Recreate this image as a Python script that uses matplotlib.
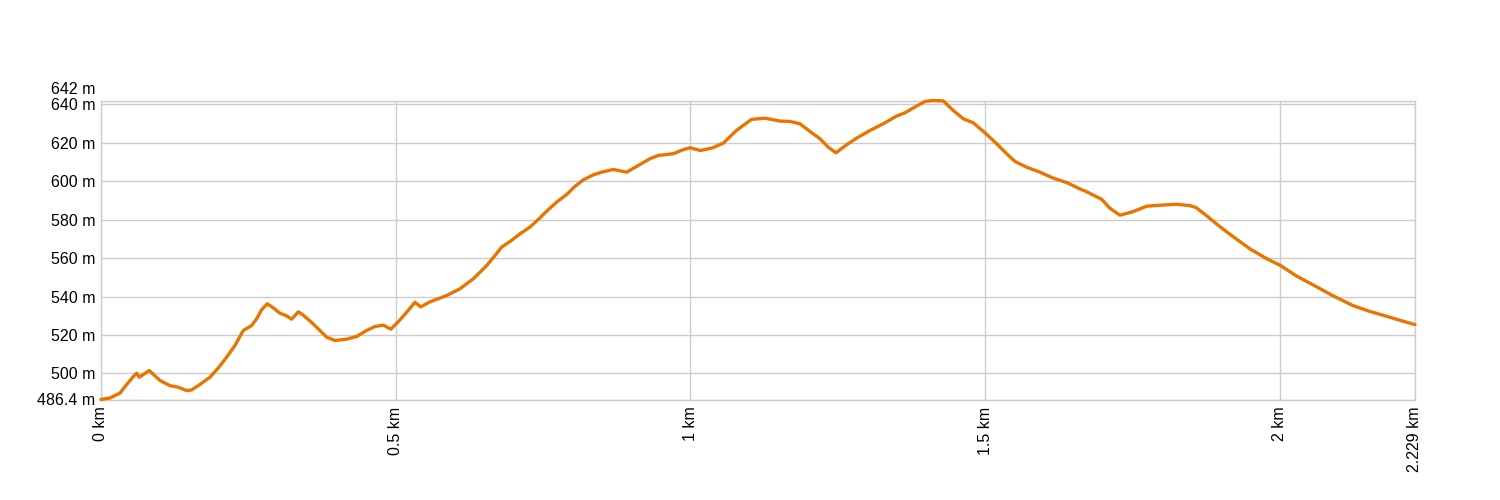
import numpy as np
import matplotlib
matplotlib.use("Agg")
import matplotlib.pyplot as plt
import matplotlib.transforms as mtransforms

plt.rcParams['font.family'] = ['Liberation Sans', 'DejaVu Sans']

# elevation profile, distance in km, elevation in m
dist_km = [0.0, 0.0153, 0.0322, 0.0407, 0.0548, 0.0606, 0.0650, 0.0819, 0.1001, 0.1171,
           0.1311, 0.1454, 0.1539, 0.1679, 0.1849, 0.1990, 0.2132, 0.2273, 0.2414, 0.2556,
           0.2641, 0.2726, 0.2821, 0.2923, 0.3036, 0.3150, 0.3235, 0.3347, 0.3432, 0.3574,
           0.3715, 0.3829, 0.3969, 0.4168, 0.4338, 0.4507, 0.4648, 0.4789, 0.4919, 0.5072,
           0.5186, 0.5327, 0.5423, 0.5581, 0.5864, 0.6090, 0.6316, 0.6543, 0.6684, 0.6797,
           0.6938, 0.7108, 0.7277, 0.7447, 0.7561, 0.7730, 0.7900, 0.8041, 0.8182, 0.8351,
           0.8494, 0.8690, 0.8918, 0.9114, 0.9313, 0.9454, 0.9708, 0.9878, 0.9992, 1.0170,
           1.0360, 1.0556, 1.0784, 1.1038, 1.1264, 1.1518, 1.1688, 1.1858, 1.2027, 1.2197,
           1.2337, 1.2468, 1.2650, 1.2819, 1.3045, 1.3271, 1.3498, 1.3639, 1.3779, 1.3978,
           1.4100, 1.4288, 1.4458, 1.4627, 1.4797, 1.4996, 1.5194, 1.5364, 1.5505, 1.5703,
           1.5929, 1.6154, 1.6382, 1.6607, 1.6721, 1.6975, 1.7116, 1.7286, 1.7512, 1.7739,
           1.7964, 1.8248, 1.8473, 1.8575, 1.8757, 1.8982, 1.9181, 1.9491, 1.9774, 2.0000,
           2.0284, 2.0565, 2.0905, 2.1244, 2.1527, 2.1810, 2.2092, 2.229]
elev_m = [486.4, 487.2, 489.7, 493.1, 498.3, 500.1, 498.0, 501.5, 496.3, 493.6,
          492.8, 491.0, 491.4, 494.2, 498.0, 502.8, 508.4, 514.5, 522.3, 524.9,
          528.4, 533.1, 536.2, 534.1, 531.3, 529.9, 528.2, 532.0, 530.3, 526.5,
          522.3, 518.8, 517.1, 517.8, 519.2, 522.3, 524.4, 525.1, 523.0, 527.8,
          531.8, 537.0, 534.6, 537.2, 540.5, 544.0, 549.2, 556.1, 561.3, 565.7,
          568.6, 572.6, 576.1, 580.9, 584.4, 589.1, 593.1, 597.3, 600.7, 603.3,
          604.7, 606.1, 604.7, 608.2, 611.7, 613.4, 614.3, 616.4, 617.4, 616.0,
          617.2, 619.8, 626.5, 632.2, 632.8, 631.3, 631.1, 629.9, 625.9, 622.1,
          617.7, 614.8, 619.0, 622.4, 626.4, 629.9, 633.9, 635.6, 638.1, 641.5,
          642.0, 641.8, 636.8, 632.5, 630.4, 625.2, 619.5, 614.3, 610.3, 607.3,
          604.7, 601.6, 599.3, 596.0, 594.5, 590.6, 585.9, 582.3, 584.2, 587.0,
          587.5, 588.0, 587.3, 586.3, 582.0, 576.3, 571.7, 564.8, 559.7, 556.3,
          550.6, 546.0, 540.3, 535.2, 532.2, 529.7, 527.1, 525.4]

y_ticks = [486.4, 500, 520, 540, 560, 580, 600, 620, 640, 642]
y_labels = ["486.4 m", "500 m", "520 m", "540 m", "560 m", "580 m", "600 m", "620 m", "640 m", "642 m"]
x_ticks = [0, 0.5, 1, 1.5, 2, 2.229]
x_labels = ["0 km", "0.5 km", "1 km", "1.5 km", "2 km", "2.229 km"]

fig = plt.figure(figsize=(15, 5), dpi=100)
ax = fig.add_axes([0.0673, 0.201, 0.876, 0.598])

ax.plot(dist_km, elev_m, color='#e87500', linewidth=2.4, solid_joinstyle='round',
        solid_capstyle='round', zorder=3, clip_on=False)

ax.set_xlim(0, 2.229)
ax.set_ylim(486.4, 642)
ax.set_yticks(y_ticks)
ax.set_yticklabels(y_labels)
ax.set_xticks(x_ticks)
ax.set_xticklabels(x_labels, rotation=90)
ax.tick_params(length=0, labelsize=11.5, colors='black')
ax.tick_params(axis='y', pad=4)
ax.tick_params(axis='x', pad=5)
ax.grid(True, color='#cccccc', linewidth=1)
ax.set_axisbelow(True)
for s in ax.spines.values():
    s.set_color('#cccccc')
    s.set_linewidth(1)

# push the "642 m" label up so it doesn't sit on "640 m"
lab = ax.get_yticklabels()[-1]
lab.set_transform(lab.get_transform() + mtransforms.ScaledTranslation(0, 0.12, fig.dpi_scale_trans))

fig.savefig("out.png", dpi=100)
